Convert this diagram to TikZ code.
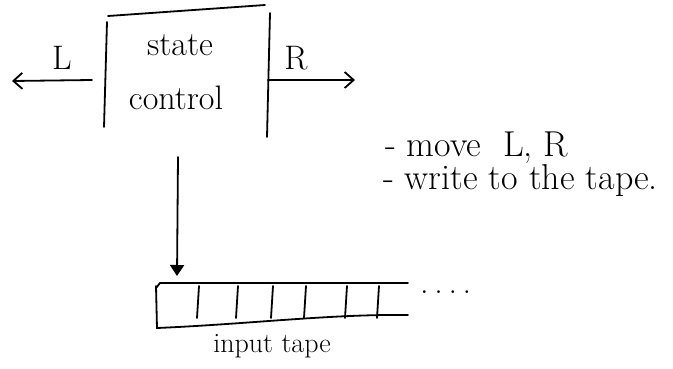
\documentclass[tikz,border=0pt]{standalone}
\usetikzlibrary{arrows.meta}
\begin{document}
\begin{tikzpicture}[x=1pt,y=-1pt,
  pen/.style={line width=1.8pt,line cap=round,black},
  lbl/.style={inner sep=0pt,font=\fontsize{34}{40}\selectfont},
  note/.style={inner sep=0pt,anchor=west,font=\fontsize{36}{40}\selectfont}]
\useasboundingbox (0,0) rectangle (673,368);
% state control box (open at bottom)
\draw[pen] (108,16) -- (265,5);
\draw[pen] (107,22) -- (104,127);
\draw[pen] (270,13) -- (267,137);
\node[lbl] (st) at (180,45) {state};
\node[lbl] (ct) at (176,98) {control};
\coordinate (bl) at (92,80);
\coordinate (br) at (268,80);
\coordinate (lend) at (12,81);
\coordinate (rend) at (355,80);
\draw[pen,-{Straight Barb[length=9pt,width=16pt]}] (bl) -- (lend);
\draw[pen,-{Straight Barb[length=9pt,width=16pt]}] (br) -- (rend);
\node[lbl] (L) at (62,58) {L};
\node[lbl] (R) at (296,58) {R};
% down arrow
\coordinate (dtop) at (178,157);
\coordinate (dbot) at (177,276);
\draw[pen,-{Triangle[length=11pt,width=14pt]}] (dtop) -- (dbot);
% tape
\draw[pen] (156,288) -- (160,283) -- (408,283);
\draw[pen] (156,286) -- (157,328) .. controls (250,324) and (330,314) .. (408,315);
\foreach \x in {198,237,272,305,346,378}
  \draw[pen] (\x+1,286) -- (\x-1,318);
\node[lbl,anchor=west] (dots) at (420,292) {.\,.\,.\,.};
\node[inner sep=0pt,font=\fontsize{28}{32}\selectfont] (tape) at (272,346) {input tape};
% notes
\node[note] (n1) at (385,148) {- move \ L, R};
\node[note] (n2) at (383,181) {- write to the tape.};
\end{tikzpicture}
\end{document}
